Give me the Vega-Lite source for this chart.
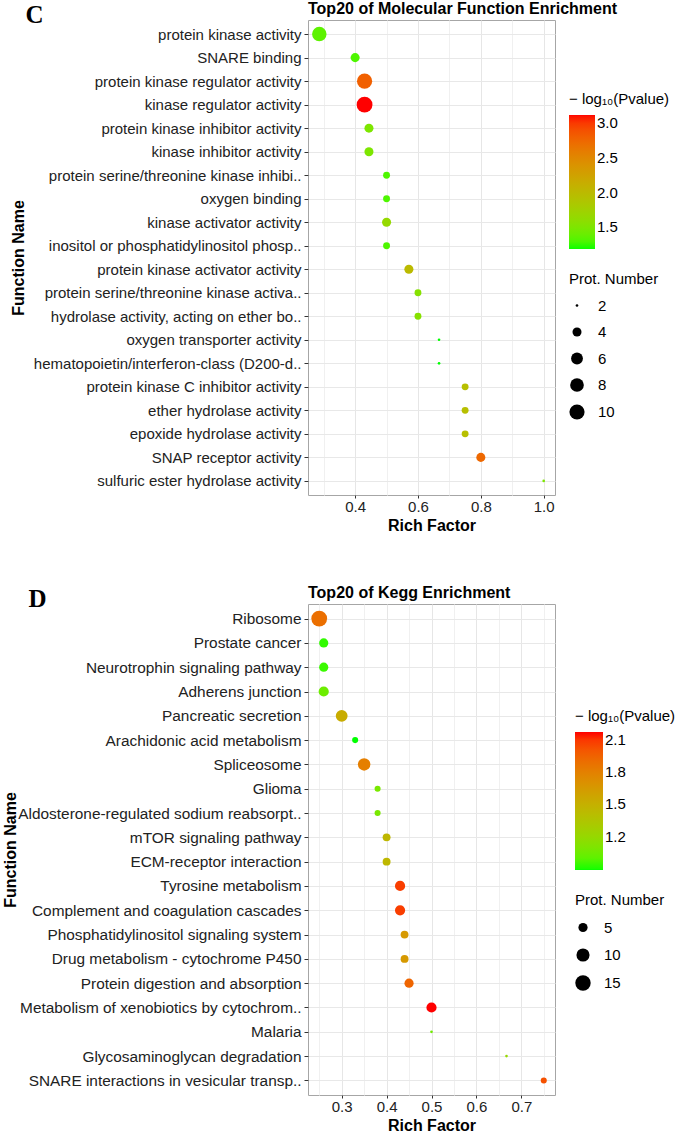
{
  "$schema": "https://vega.github.io/schema/vega-lite/v6.json",
  "background": "white",
  "padding": {"left": 1, "top": 0, "right": 0, "bottom": 0},
  "columns": 1,
  "align": "none",
  "spacing": 50,
  "config": {
    "font": "Liberation Sans",
    "view": {"stroke": "#A6A6A6", "strokeWidth": 1},
    "axis": {
      "labelFont": "Liberation Sans", "labelFontSize": 15, "labelColor": "#222222", "labelLimit": 400,
      "titleFont": "Liberation Sans", "titleFontSize": 16, "titleFontWeight": "bold", "titleColor": "#000000",
      "tickColor": "#333333", "tickSize": 4, "domain": false, "gridColor": "#E8E8E8", "gridWidth": 1
    },
    "legend": {
      "titleFont": "Liberation Sans", "titleFontSize": 15, "titleFontWeight": "normal", "titleColor": "#000000",
      "labelFont": "Liberation Sans", "labelFontSize": 15, "labelColor": "#000000",
      "gradientStrokeWidth": 0, "labelOffset": 8, "titlePadding": 8,
      "symbolFillColor": "#000000", "symbolStrokeWidth": 0, "symbolType": "circle"
    },
    "title": {"font": "Liberation Sans", "fontSize": 16, "fontWeight": "bold", "color": "#000000"}
  },
  "resolve": {"scale": {"x": "independent", "y": "independent", "color": "independent", "size": "independent"}},
  "concat": [
    {
      "title": {"text": "C", "anchor": "start", "frame": "bounds", "font": "Liberation Serif", "fontSize": 25, "fontWeight": "bold", "offset": -27, "dx": 16},
      "vconcat": [
        {
          "width": 247,
          "height": 475,
          "title": {"text": "Top20 of Molecular Function Enrichment", "anchor": "start", "frame": "group", "offset": 3},
          "data": {"values": [
            {"term": "protein kinase activity", "rich": 0.286, "n": 9, "p": 1.35},
            {"term": "SNARE binding", "rich": 0.4, "n": 4, "p": 1.3},
            {"term": "protein kinase regulator activity", "rich": 0.43, "n": 10, "p": 2.8},
            {"term": "kinase regulator activity", "rich": 0.43, "n": 11, "p": 3.12},
            {"term": "protein kinase inhibitor activity", "rich": 0.444, "n": 4, "p": 1.5},
            {"term": "kinase inhibitor activity", "rich": 0.444, "n": 4, "p": 1.5},
            {"term": "protein serine/threonine kinase inhibi..", "rich": 0.5, "n": 3, "p": 1.3},
            {"term": "oxygen binding", "rich": 0.5, "n": 3, "p": 1.3},
            {"term": "kinase activator activity", "rich": 0.5, "n": 4, "p": 1.65},
            {"term": "inositol or phosphatidylinositol phosp..", "rich": 0.5, "n": 3, "p": 1.3},
            {"term": "protein kinase activator activity", "rich": 0.571, "n": 4, "p": 2.0},
            {"term": "protein serine/threonine kinase activa..", "rich": 0.6, "n": 3, "p": 1.55},
            {"term": "hydrolase activity, acting on ether bo..", "rich": 0.6, "n": 3, "p": 1.55},
            {"term": "oxygen transporter activity", "rich": 0.667, "n": 2, "p": 1.19},
            {"term": "hematopoietin/interferon-class (D200-d..", "rich": 0.667, "n": 2, "p": 1.19},
            {"term": "protein kinase C inhibitor activity", "rich": 0.75, "n": 3, "p": 1.95},
            {"term": "ether hydrolase activity", "rich": 0.75, "n": 3, "p": 1.95},
            {"term": "epoxide hydrolase activity", "rich": 0.75, "n": 3, "p": 1.95},
            {"term": "SNAP receptor activity", "rich": 0.8, "n": 4, "p": 2.75},
            {"term": "sulfuric ester hydrolase activity", "rich": 1.0, "n": 2, "p": 1.5}
          ]},
          "mark": {"type": "circle", "opacity": 1},
          "encoding": {
            "y": {"field": "term", "type": "nominal", "sort": null,
                  "scale": {"type": "point", "padding": 0.6},
                  "axis": {"title": "Function Name", "titleX": -282, "grid": true, "labelPadding": 3}},
            "x": {"field": "rich", "type": "quantitative",
                  "scale": {"domain": [0.25, 1.036], "nice": false, "zero": false},
                  "axis": {"title": "Rich Factor", "titlePadding": 3, "labelPadding": 1, "tickSize": 3,
                           "values": [0.3, 0.4, 0.5, 0.6, 0.7, 0.8, 0.9, 1.0],
                           "labelExpr": "abs(datum.value*5 - round(datum.value*5)) < 0.001 ? format(datum.value, '.1f') : ''",
                           "tickOpacity": {"condition": {"test": "abs(datum.value*5 - round(datum.value*5)) < 0.001", "value": 1}, "value": 0},
                           "gridColor": {"condition": {"test": "abs(datum.value*5 - round(datum.value*5)) < 0.001", "value": "#E6E6E6"}, "value": "#F0F0F0"}}},
            "color": {"field": "p", "type": "quantitative",
                      "scale": {"domain": [1.19, 3.12], "range": ["#00FF00", "#FF0000"], "interpolate": "lab"},
                      "legend": {"title": "− log₁₀(Pvalue)", "orient": "none", "direction": "vertical", "legendX": 261, "legendY": 72,
                                 "values": [1.5, 2.0, 2.5, 3.0], "format": ".1f", "gradientLength": 134, "gradientThickness": 26}},
            "size": {"field": "n", "type": "quantitative",
                     "scale": {"type": "sqrt", "domain": [2, 11], "range": [7, 250], "zero": false},
                     "legend": {"title": "Prot. Number", "orient": "none", "direction": "vertical", "legendX": 261, "legendY": 252,
                                "values": [2, 4, 6, 8, 10], "rowPadding": 10.5, "titlePadding": 11, "labelOffset": 13}}
          }
        }
      ]
    },
    {
      "title": {"text": "D", "anchor": "start", "frame": "bounds", "font": "Liberation Serif", "fontSize": 25, "fontWeight": "bold", "offset": -27, "dx": 27},
      "vconcat": [
        {
          "width": 247,
          "height": 491,
          "title": {"text": "Top20 of Kegg Enrichment", "anchor": "start", "frame": "group", "offset": 3},
          "data": {"values": [
            {"term": "Ribosome", "rich": 0.25, "n": 16, "p": 1.89},
            {"term": "Prostate cancer", "rich": 0.26, "n": 5, "p": 0.92},
            {"term": "Neurotrophin signaling pathway", "rich": 0.26, "n": 5, "p": 0.93},
            {"term": "Adherens junction", "rich": 0.26, "n": 6, "p": 1.04},
            {"term": "Pancreatic secretion", "rich": 0.30, "n": 8, "p": 1.53},
            {"term": "Arachidonic acid metabolism", "rich": 0.33, "n": 3, "p": 0.89},
            {"term": "Spliceosome", "rich": 0.35, "n": 9, "p": 1.81},
            {"term": "Glioma", "rich": 0.38, "n": 3, "p": 1.08},
            {"term": "Aldosterone-regulated sodium reabsorpt..", "rich": 0.38, "n": 3, "p": 1.08},
            {"term": "mTOR signaling pathway", "rich": 0.40, "n": 4, "p": 1.45},
            {"term": "ECM-receptor interaction", "rich": 0.40, "n": 4, "p": 1.45},
            {"term": "Tyrosine metabolism", "rich": 0.43, "n": 6, "p": 2.08},
            {"term": "Complement and coagulation cascades", "rich": 0.43, "n": 6, "p": 2.08},
            {"term": "Phosphatidylinositol signaling system", "rich": 0.44, "n": 4, "p": 1.65},
            {"term": "Drug metabolism - cytochrome P450", "rich": 0.44, "n": 4, "p": 1.65},
            {"term": "Protein digestion and absorption", "rich": 0.45, "n": 5, "p": 1.94},
            {"term": "Metabolism of xenobiotics by cytochrom..", "rich": 0.50, "n": 6, "p": 2.17},
            {"term": "Malaria", "rich": 0.50, "n": 2, "p": 1.05},
            {"term": "Glycosaminoglycan degradation", "rich": 0.667, "n": 2, "p": 1.2},
            {"term": "SNARE interactions in vesicular transp..", "rich": 0.75, "n": 3, "p": 2.02}
          ]},
          "mark": {"type": "circle", "opacity": 1},
          "encoding": {
            "y": {"field": "term", "type": "nominal", "sort": null,
                  "scale": {"type": "point", "padding": 0.6},
                  "axis": {"title": "Function Name", "titleX": -290, "grid": true, "labelPadding": 3, "labelFontSize": 15.4}},
            "x": {"field": "rich", "type": "quantitative",
                  "scale": {"domain": [0.225, 0.775], "nice": false, "zero": false},
                  "axis": {"title": "Rich Factor", "titlePadding": 3, "labelPadding": 1, "tickSize": 3,
                           "values": [0.25, 0.3, 0.35, 0.4, 0.45, 0.5, 0.55, 0.6, 0.65, 0.7, 0.75],
                           "labelExpr": "abs(datum.value*10 - round(datum.value*10)) < 0.001 ? format(datum.value, '.1f') : ''",
                           "tickOpacity": {"condition": {"test": "abs(datum.value*10 - round(datum.value*10)) < 0.001", "value": 1}, "value": 0},
                           "gridColor": {"condition": {"test": "abs(datum.value*10 - round(datum.value*10)) < 0.001", "value": "#E6E6E6"}, "value": "#F0F0F0"}}},
            "color": {"field": "p", "type": "quantitative",
                      "scale": {"domain": [0.89, 2.17], "range": ["#00FF00", "#FF0000"], "interpolate": "lab"},
                      "legend": {"title": "− log₁₀(Pvalue)", "orient": "none", "direction": "vertical", "legendX": 267, "legendY": 105,
                                 "values": [1.2, 1.5, 1.8, 2.1], "format": ".1f", "gradientLength": 138, "gradientThickness": 28}},
            "size": {"field": "n", "type": "quantitative",
                     "scale": {"type": "sqrt", "domain": [2, 16], "range": [7, 250], "zero": false},
                     "legend": {"title": "Prot. Number", "orient": "none", "direction": "vertical", "legendX": 267, "legendY": 289,
                                "values": [5, 10, 15], "rowPadding": 11.5, "titlePadding": 12, "labelOffset": 13}}
          }
        }
      ]
    }
  ]
}
